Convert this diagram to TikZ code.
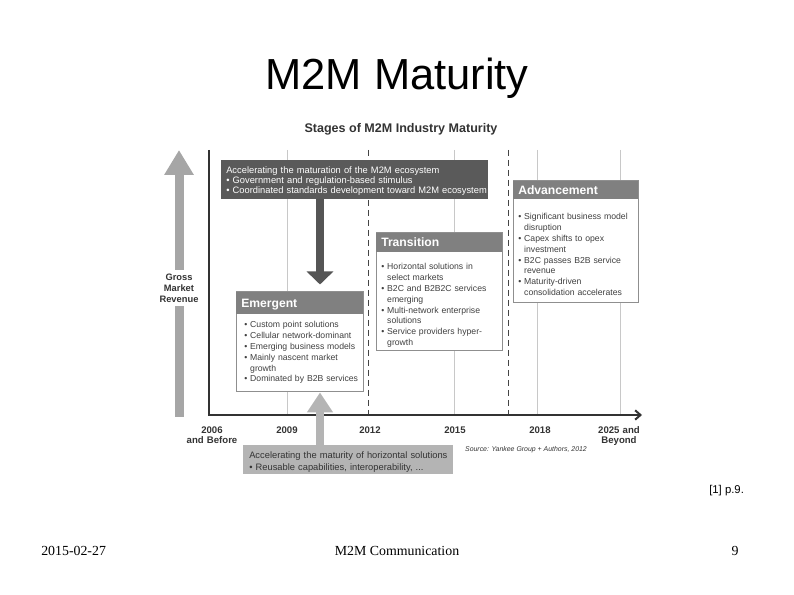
\documentclass[tikz,border=0pt]{standalone}
\usepackage{fontspec}
\setmainfont{Liberation Sans}
\newfontfamily\seriffont{Liberation Serif}
\usetikzlibrary{arrows.meta,fit}
\definecolor{topbox}{HTML}{5A5A5A}
\definecolor{hdr}{HTML}{808080}
\definecolor{border}{HTML}{8F8F8F}
\definecolor{btxt}{HTML}{404040}
\definecolor{lightg}{HTML}{B4B4B4}
\definecolor{leftar}{HTML}{A6A6A6}
\definecolor{darkar}{HTML}{555555}
\definecolor{gridc}{HTML}{C8C8C8}
\definecolor{dashc}{HTML}{444444}
\definecolor{axisc}{HTML}{333333}
\newcommand\bitem{\textbullet\ }
\newcommand\bind{\phantom{\textbullet\ }}
\begin{document}
\begin{tikzpicture}[x=0.75pt,y=-0.75pt,
  gridline/.style={draw=gridc, line width=0.75pt},
  dashline/.style={draw=dashc, line width=0.75pt, dash pattern=on 4.5pt off 3pt},
  bodybox/.style={draw=border, fill=white, line width=0.75pt, inner sep=0pt},
  hdrbox/.style={fill=hdr, inner sep=0pt},
  hdrtxt/.style={text=white, font=\fontsize{9.1}{11}\selectfont\bfseries, inner sep=0pt, anchor=base west},
  bodytxt/.style={text=btxt, font=\fontsize{6.5}{8.1}\selectfont, inner sep=0pt, anchor=base west, text width=95pt, align=left},
  yearlbl/.style={text=axisc, font=\fontsize{7.2}{7.5}\selectfont\bfseries, inner sep=0pt, anchor=base, text width=50pt, align=center},
]
\useasboundingbox (0,0) rectangle (794,595);

% title
\node[font=\fontsize{32.6}{36}\selectfont, anchor=base, inner sep=0pt] (title) at (397,90) {M2M Maturity};
\node[font=\fontsize{9.4}{11}\selectfont\bfseries, text=axisc, anchor=base, inner sep=0pt] (sub) at (401,132.5) {Stages of M2M Industry Maturity};

% grid
\draw[gridline] (287,150) -- (287,415);
\draw[gridline] (454,150) -- (454,415);
\draw[gridline] (537,150) -- (537,415);
\draw[gridline] (620,150) -- (620,415);
\draw[dashline] (368,150) -- (368,415);
\draw[dashline] (508,150) -- (508,415);
\draw[axisc, line width=1.5pt, -{Straight Barb[length=4pt,width=7pt]}] (209,150) |- (642,415);

% top box
\node[fit={(221,160)(488,199)}, fill=topbox, inner sep=0pt] (accel) {};
\node[anchor=base west, inner sep=0pt, text=white, font=\fontsize{7}{7.5}\selectfont, text width=200pt, align=left] (accelt) at (226,173.3)
  {Accelerating the maturation of the M2M ecosystem\\ \bitem Government and regulation-based stimulus\\ \bitem Coordinated standards development toward M2M ecosystem};

% Emergent
\node[bodybox, fit={(236,292)(363,392)}] (emg) {};
\node[hdrbox, fit={(236,292)(363,314)}] (emgh) {};
\node[hdrtxt] (emgl) at (241,307.4) {Emergent};
\node[bodytxt] (emgt) at (244,328) {\bitem Custom point solutions\\ \bitem Cellular network-dominant\\ \bitem Emerging business models\\ \bitem Mainly nascent market\\ \bind growth\\ \bitem Dominated by B2B services};

% Transition
\node[bodybox, fit={(376,233)(502,351)}] (tra) {};
\node[hdrbox, fit={(376,233)(502,252)}] (trah) {};
\node[hdrtxt] (tral) at (381,247) {Transition};
\node[bodytxt] (trat) at (381,270) {\bitem Horizontal solutions in\\ \bind select markets\\ \bitem B2C and B2B2C services\\ \bind emerging\\ \bitem Multi-network enterprise\\ \bind solutions\\ \bitem Service providers hyper-\\ \bind growth};

% Advancement
\node[bodybox, fit={(513,181)(638,303)}] (adv) {};
\node[hdrbox, fit={(513,181)(638,199)}] (advh) {};
\node[hdrtxt] (advl) at (518,194.5) {Advancement};
\node[bodytxt] (advt) at (518,220) {\bitem Significant business model\\ \bind disruption\\ \bitem Capex shifts to opex\\ \bind investment\\ \bitem B2C passes B2B service\\ \bind revenue\\ \bitem Maturity-driven\\ \bind consolidation accelerates};

% bottom box
\node[fit={(243,445)(453,474)}, fill=lightg, inner sep=0pt] (horiz) {};
\node[anchor=base west, inner sep=0pt, text=axisc, font=\fontsize{7}{9}\selectfont, text width=200pt, align=left] (horizt) at (249,458.4)
  {Accelerating the maturity of horizontal solutions\\ \bitem Reusable capabilities, interoperability, ...};

% block arrows
\coordinate (ax) at (320,0);
\draw[darkar, line width=6pt, -{Triangle[width=19.5pt,length=9.75pt]}, shorten >=5.25pt] (accel.south -| ax) -- (emg.north -| ax);
\draw[lightg, line width=6pt, -{Triangle[width=18.75pt,length=15pt]}] (horiz.north -| ax) -- (emg.south -| ax);

% left revenue arrow
\node[text=axisc, font=\fontsize{7}{8.25}\selectfont\bfseries, text width=40pt, align=center, anchor=base, inner xsep=0pt, inner ysep=2.8pt] (gmr) at (179,280.4) {Gross\\Market\\Revenue};
\coordinate (gbot) at (179,417);
\coordinate (gtip) at (179,150);
\draw[leftar, line width=6.75pt] (gbot) -- (gmr.south);
\draw[leftar, line width=6.75pt, -{Triangle[width=21pt,length=18.75pt]}] (gmr.north) -- (gtip);

% years
\node[yearlbl] (y06) at (212,433.5) {2006\\and Before};
\node[yearlbl] (y09) at (287,433.5) {2009};
\node[yearlbl] (y12) at (370,433.5) {2012};
\node[yearlbl] (y15) at (455,433.5) {2015};
\node[yearlbl] (y18) at (540,433.5) {2018};
\node[yearlbl] (y25) at (619,433.5) {2025 and\\Beyond};

\node[font=\fontsize{5.2}{6}\selectfont\itshape, text=axisc, anchor=base, inner sep=0pt] (src) at (526,452) {Source: Yankee Group + Authors, 2012};

\node[font=\fontsize{8.5}{10}\selectfont, anchor=base west, inner sep=0pt] (ref) at (709,493.5) {[1] p.9.};

% footer
\node[font=\seriffont\fontsize{10.4}{12}\selectfont, anchor=base west, inner sep=0pt] (date) at (41,555.6) {2015-02-27};
\node[font=\seriffont\fontsize{10.4}{12}\selectfont, anchor=base, inner sep=0pt] (foot) at (397,555.6) {M2M Communication};
\node[font=\seriffont\fontsize{10.4}{12}\selectfont, anchor=base, inner sep=0pt] (pg) at (735,555.6) {9};
\end{tikzpicture}
\end{document}
